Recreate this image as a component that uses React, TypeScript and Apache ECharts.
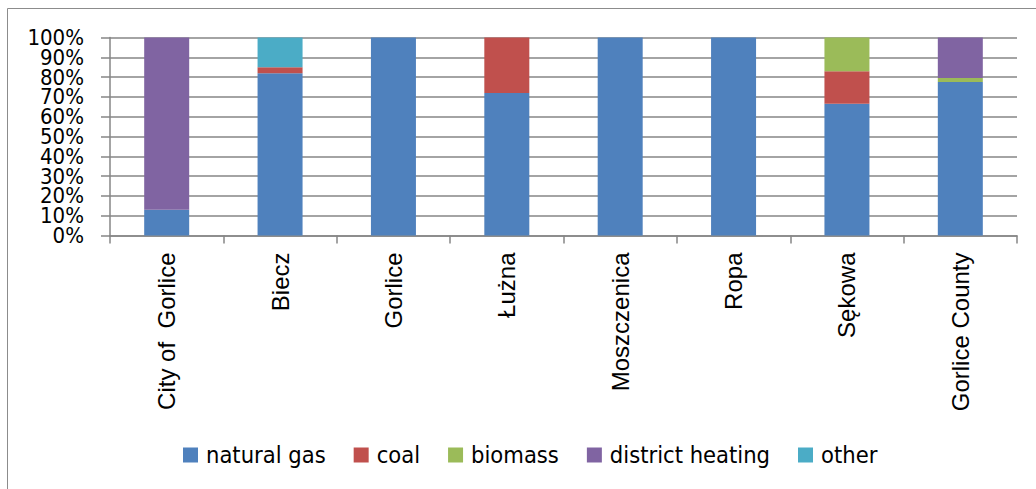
import React, { useEffect, useRef } from "react";
import * as echarts from "echarts";

const categories = ["City of  Gorlice", "Biecz", "Gorlice", "Łużna", "Moszczenica", "Ropa", "Sękowa", "Gorlice County"];
const naturalGas = [13, 82, 100, 72, 100, 100, 66.5, 77.5];
const coal = [0, 3, 0, 28, 0, 0, 16.5, 0];
const biomass = [0, 0, 0, 0, 0, 0, 17, 2];
const districtHeating = [87, 0, 0, 0, 0, 0, 0, 20.5];
const other = [0, 15, 0, 0, 0, 0, 0, 0];
const seriesNames = ["natural gas", "coal", "biomass", "district heating", "other"];
const colors = ["#4F81BD", "#C0504D", "#9BBB59", "#8064A2", "#4BACC6"];

const narrow = "'DejaVu Sans Condensed', 'Liberation Sans Narrow', sans-serif";

export default function App() {
  const ref = useRef<HTMLDivElement>(null);
  useEffect(() => {
    if (!ref.current) return;
    const chart = echarts.init(ref.current, undefined, { renderer: "svg" });
    const data = [naturalGas, coal, biomass, districtHeating, other];
    const labelBase = {
      margin: 26,
      fontFamily: narrow,
      fontSize: 22,
      lineHeight: 18,
      color: "#000",
      hideOverlap: false,
    };
    chart.setOption({
      animation: false,
      color: colors,
      grid: { left: 110, right: 19, top: 37.5, bottom: 253.5, containLabel: false },
      legend: {
        left: 178,
        top: 438,
        itemWidth: 15,
        itemHeight: 15,
        itemGap: 28,
        icon: "rect",
        textStyle: { fontFamily: narrow, fontSize: 23.5, color: "#000", padding: [0, 0, 0, 3] },
        data: seriesNames,
      },
      graphic: [
        {
          type: "rect",
          shape: { x: 7.5, y: 8.5, width: 1040, height: 490 },
          style: { fill: "none", stroke: "#8c8c8c", lineWidth: 1 },
          silent: true,
        },
      ],
      xAxis: {
        type: "category",
        data: categories,
        axisLine: { lineStyle: { color: "#868686", width: 1.5 } },
        axisTick: { show: true, length: 8, lineStyle: { color: "#868686", width: 1.5 } },
        axisLabel: {
          rotate: 90,
          margin: 17,
          fontFamily: "'Liberation Sans', Arial, sans-serif",
          fontSize: 24,
          color: "#000",
          interval: 0,
        },
      },
      yAxis: [
        {
          type: "value",
          position: "left",
          min: 0,
          max: 100,
          interval: 10,
          axisLine: { show: true, lineStyle: { color: "#868686", width: 1.5 } },
          axisTick: { show: true, length: 9, lineStyle: { color: "#868686", width: 1.5 } },
          splitLine: { lineStyle: { color: "#868686", width: 1.5 } },
          axisLabel: {
            ...labelBase,
            formatter: (v: number) => (v % 20 === 0 ? v + "%" : ""),
          },
        },
        {
          type: "value",
          position: "left",
          offset: 0,
          min: 0,
          max: 100,
          interval: 10,
          axisLine: { show: false },
          axisTick: { show: false },
          splitLine: { show: false },
          axisLabel: {
            ...labelBase,
            formatter: (v: number) => (v % 20 === 10 ? v + "%" : ""),
          },
        },
      ],
      series: seriesNames.map((name, i) => ({
        name,
        type: "bar",
        stack: "total",
        barWidth: 45,
        yAxisIndex: 0,
        data: data[i],
        itemStyle: { color: colors[i] },
      })),
    });
    return () => chart.dispose();
  }, []);
  return (
    <div
      ref={ref}
      style={{ position: "fixed", left: 0, top: 0, width: 1036, height: 489, background: "#fff" }}
    />
  );
}
